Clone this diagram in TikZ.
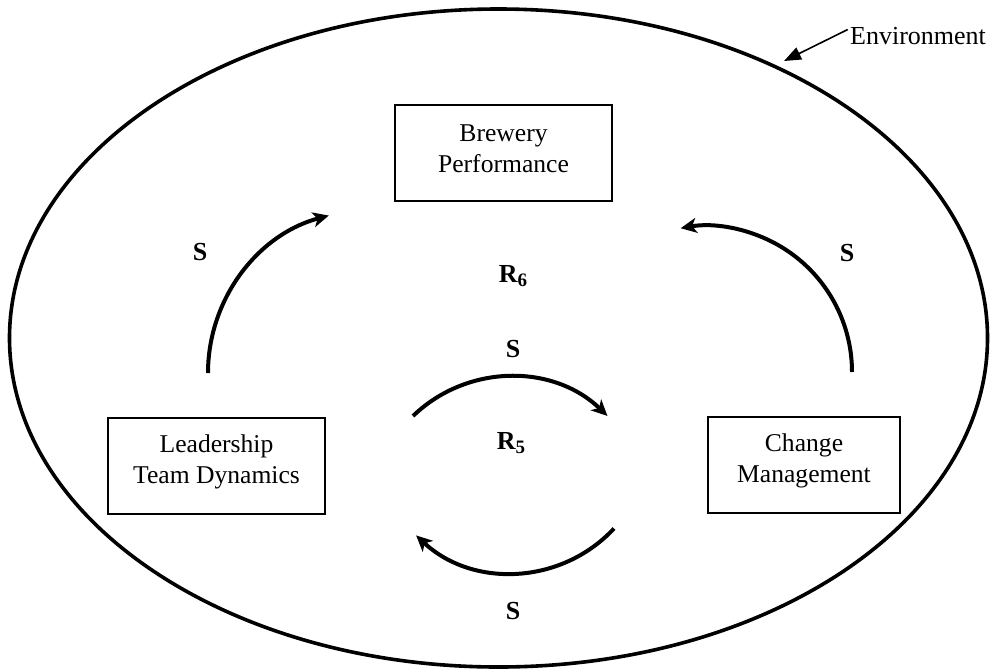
\documentclass[tikz,border=0pt]{standalone}
\usepackage{fontspec}
\setmainfont{Liberation Serif}
\usetikzlibrary{arrows.meta}
\begin{document}
\begin{tikzpicture}[x=0.5pt,y=-0.5pt,
  box/.style={draw, line width=0.85pt, minimum width=#1, minimum height=48pt, inner sep=0pt},
  boxtext/.style={align=center, inner sep=0pt, font=\fontsize{12.8}{15.8}\selectfont},
  sign/.style={inner sep=0pt, font=\fontsize{13}{15}\selectfont\bfseries},
  loopname/.style={inner sep=0pt, font=\fontsize{13}{15}\selectfont\bfseries},
  loop arrow/.style={line width=2pt, -{Stealth[length=8pt,width=7.5pt,inset=2.2pt]}},
  pointer/.style={line width=0.8pt, -{Triangle[length=8.5pt,width=6.5pt]}}
]
% page frame
\useasboundingbox (0,0) rectangle (995,670);

% environment boundary
\draw[line width=1.8pt] (498.5,338) ellipse [x radius=489, y radius=329];

% environment label and pointer
\node[inner sep=1pt, anchor=base, font=\fontsize{13}{15}\selectfont] (env) at (918,44) {Environment};
\coordinate (envtip) at (784,61);
\draw[pointer] ([yshift=3pt]env.west) -- (envtip);

% variables
\node[box=108.5pt] (brew) at (503.5,153) {};
\node[boxtext] (brewtxt) at ([yshift=2.2pt]brew.center) {Brewery\\Performance};

\node[box=108.5pt] (lead) at (216.5,466) {};
\node[boxtext] (leadtxt) at ([yshift=2pt]lead.center) {Leadership\\Team Dynamics};

\node[box=96pt] (chg) at (804,465) {};
\node[boxtext] (chgtxt) at ([yshift=2pt]chg.center) {Change\\Management};

% outer reinforcing loop R6
\coordinate (lup) at (208,373);
\draw[loop arrow] (lup) arc[start angle=180, end angle=255, radius=163];
\coordinate (rup) at (852,372);
\draw[loop arrow] (rup) arc[start angle=0, end angle=-100, radius=146];
\node[sign] (sl) at (200,252) {S};
\node[sign] (sr) at (847,253) {S};
\node[loopname] (r6) at (513,276) {R\raisebox{-0.35ex}{\fontsize{9.5}{10}\selectfont 6}};

% inner reinforcing loop R5
\coordinate (itop) at (413,416);
\draw[loop arrow] (itop) arc[start angle=226, end angle=314, radius=140];
\coordinate (ibot) at (614,528.5);
\draw[loop arrow] (ibot) arc[start angle=43, end angle=133, radius=140];
\node[sign] (st) at (513,349) {S};
\node[sign] (sb) at (513,611) {S};
\node[loopname] (r5) at (511,443) {R\raisebox{-0.35ex}{\fontsize{9.5}{10}\selectfont 5}};
\end{tikzpicture}
\end{document}
